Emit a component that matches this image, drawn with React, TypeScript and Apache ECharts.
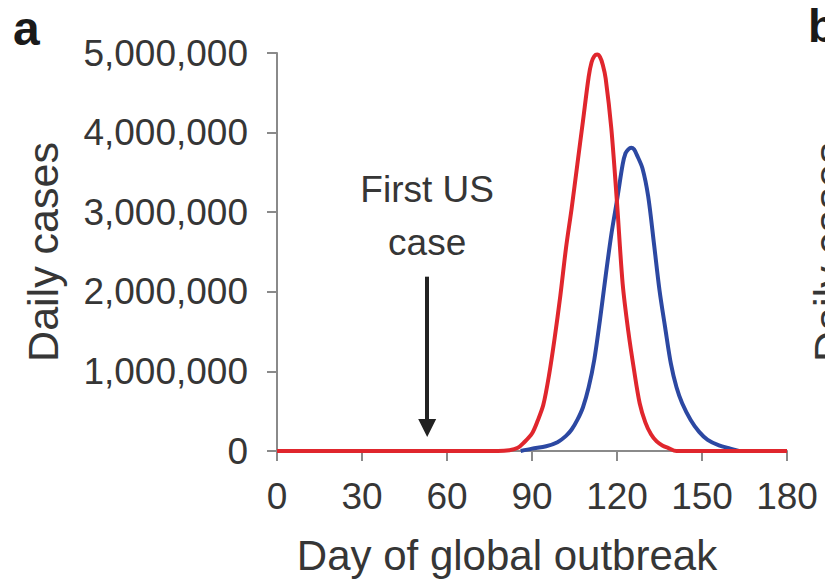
import React, { useEffect, useRef } from "react";
import * as echarts from "echarts";

// Day of global outbreak (x) and daily cases (y) for each curve
const redDays = [0, 78, 82, 85, 87, 90, 92, 94, 96, 98, 100, 102, 104, 106, 108, 110, 111, 112, 113, 114, 115, 116, 118, 120, 122, 124, 126, 128, 130, 132, 134, 136, 138, 141, 180];
const redCases = [0, 0, 10000, 40000, 100000, 220000, 380000, 580000, 950000, 1420000, 1950000, 2550000, 3050000, 3600000, 4150000, 4700000, 4880000, 4960000, 4980000, 4950000, 4850000, 4680000, 4050000, 3120000, 2100000, 1500000, 1020000, 600000, 360000, 210000, 120000, 70000, 40000, 0, 0];

const blueDays = [86, 90, 95, 99, 102, 104, 106, 108, 110, 112, 114, 116, 118, 120, 122, 123, 124, 125, 126, 127, 129, 131, 133, 135, 137, 139, 141, 143, 146, 149, 152, 156, 160, 163];
const blueCases = [0, 30000, 60000, 110000, 190000, 270000, 390000, 550000, 800000, 1150000, 1650000, 2200000, 2720000, 3150000, 3600000, 3740000, 3790000, 3810000, 3790000, 3720000, 3550000, 3200000, 2620000, 2020000, 1550000, 1100000, 800000, 600000, 390000, 240000, 140000, 70000, 30000, 0];

const xTicks = [0, 30, 60, 90, 120, 150, 180];
const yTicks = [0, 1000000, 2000000, 3000000, 4000000, 5000000];

const firstUSDay = 53;
const arrowFrom = 2190000;
const arrowTo = 290000;

const FONT = "'Liberation Sans', Arial, Helvetica, sans-serif";
const TEXT = "#363636";
const AXIS = "#8a8a8a";

export default function App() {
  const ref = useRef<HTMLDivElement>(null);
  useEffect(() => {
    if (!ref.current) return;
    const chart = echarts.init(ref.current, undefined, { renderer: "svg" });
    const red = redDays.map((d, i) => [d, redCases[i]]);
    const blue = blueDays.map((d, i) => [d, blueCases[i]]);
    chart.setOption({
      animation: false,
      textStyle: { fontFamily: FONT },
      grid: { left: 277, right: 38, top: 53, bottom: 132, containLabel: false },
      xAxis: {
        type: "value",
        min: xTicks[0],
        max: xTicks[xTicks.length - 1],
        interval: 30,
        name: "Day of global outbreak",
        nameLocation: "middle",
        nameGap: 83,
        nameTextStyle: { fontSize: 42, color: TEXT, fontFamily: FONT, padding: [0, 50, 0, 0] },
        axisLine: { show: true, lineStyle: { color: AXIS, width: 2 } },
        axisTick: { show: true, length: 10, lineStyle: { color: AXIS, width: 2 } },
        axisLabel: { fontSize: 37, color: TEXT, margin: 27, fontFamily: FONT },
        splitLine: { show: false },
      },
      yAxis: {
        type: "value",
        min: yTicks[0],
        max: yTicks[yTicks.length - 1],
        interval: 1000000,
        name: "Daily cases",
        nameLocation: "middle",
        nameGap: 213,
        nameRotate: 90,
        nameTextStyle: { fontSize: 43, color: TEXT, fontFamily: FONT },
        axisLine: { show: true, lineStyle: { color: AXIS, width: 2 } },
        axisTick: { show: true, length: 10, lineStyle: { color: AXIS, width: 2 } },
        axisLabel: {
          fontSize: 37,
          color: TEXT,
          margin: 29,
          fontFamily: FONT,
          formatter: (v: number) => v.toLocaleString("en-US"),
        },
        splitLine: { show: false },
      },
      series: [
        {
          type: "line",
          data: blue,
          smooth: 0.3,
          showSymbol: false,
          lineStyle: { color: "#2c48a2", width: 4 },
          itemStyle: { color: "#2c48a2" },
          z: 2,
        },
        {
          type: "line",
          data: red,
          smooth: 0.3,
          showSymbol: false,
          lineStyle: { color: "#e0262d", width: 4 },
          itemStyle: { color: "#e0262d" },
          z: 3,
          markLine: {
            silent: true,
            symbol: ["none", "triangle"],
            symbolSize: 18,
            lineStyle: { color: "#222222", width: 4, type: "solid" },
            label: {
              show: true,
              position: "start",
              distance: 8,
              formatter: "First US\ncase",
              fontSize: 37,
              lineHeight: 53,
              color: TEXT,
              fontFamily: FONT,
            },
            data: [[{ coord: [firstUSDay, arrowFrom] }, { coord: [firstUSDay, arrowTo] }]],
          },
        },
      ],
      graphic: [
        {
          type: "text",
          left: 13,
          top: 4,
          style: { text: "a", fontSize: 48, fontWeight: "bold", fill: "#1a1a1a", fontFamily: FONT },
        },
        {
          type: "text",
          left: 808,
          top: 3,
          style: { text: "b", fontSize: 46, fontWeight: "bold", fill: "#1a1a1a", fontFamily: FONT },
        },
        {
          type: "text",
          x: 807,
          y: 252,
          rotation: Math.PI / 2,
          style: {
            text: "Daily cases",
            fontSize: 43,
            fill: TEXT,
            fontFamily: FONT,
            align: "center",
            verticalAlign: "top",
          },
        },
      ],
    });
    return () => chart.dispose();
  }, []);
  return <div ref={ref} style={{ position: "fixed", left: 0, top: 0, width: 825, height: 583, background: "#fff" }} />;
}
